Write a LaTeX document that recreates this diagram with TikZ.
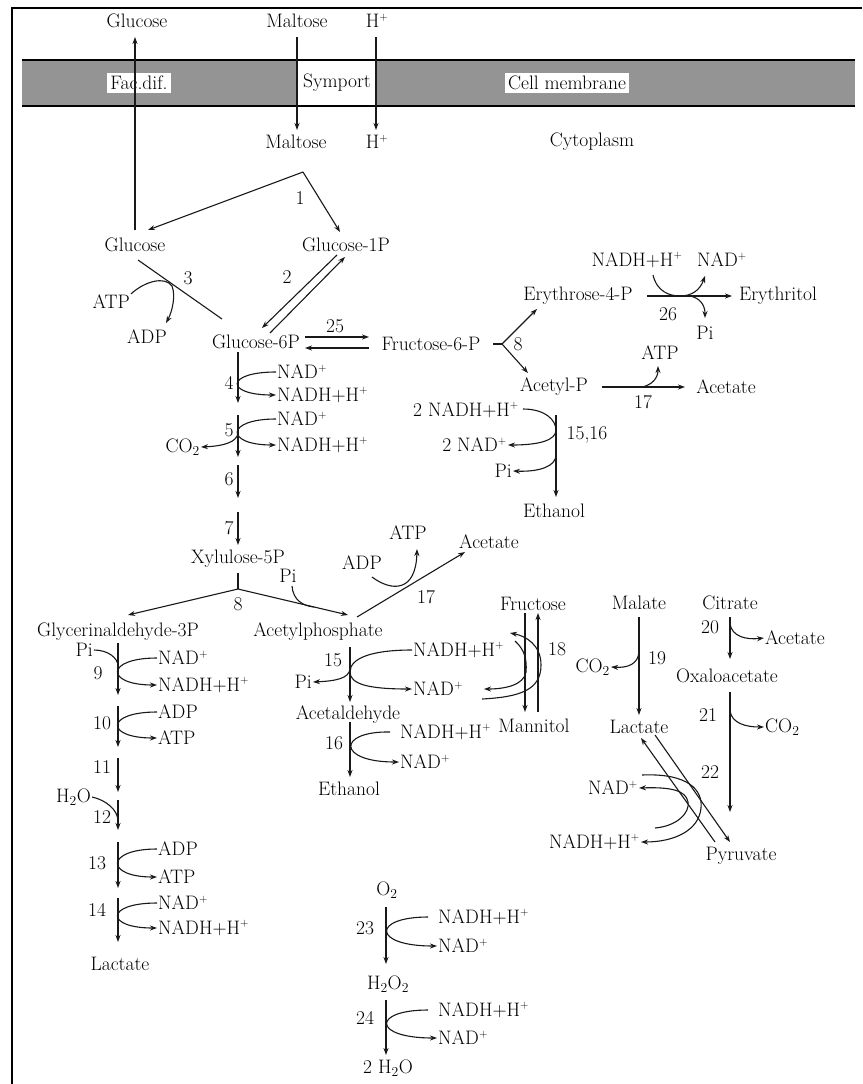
\documentclass[tikz,border=0pt]{standalone}
\usetikzlibrary{arrows.meta}
\newcommand\pls{\textsuperscript{\fontsize{11}{11}\selectfont +}}
\begin{document}
\begin{tikzpicture}[x=1pt,y=-1pt,
  t/.style={font=\fontsize{19.5}{21}\selectfont, inner sep=1pt, text=black},
  arr/.style={draw=black!90, line width=1.1pt, -{Stealth[length=7pt,width=5pt]}},
  ln/.style={draw=black!90, line width=1.1pt},
  wbox/.style={t, fill=white, inner sep=3pt}
]
\useasboundingbox (0,0) rectangle (862,1084);
\fill[white] (0,0) rectangle (862,1084);
% frame
\draw[line width=1.6pt] (12,1084) -- (12,8) -- (862,8);
% membrane
\fill[black!42] (22,60) rectangle (855,106);
\fill[white] (297,60) rectangle (376,106);
\draw[line width=1.4pt] (22,60) -- (855,60) (22,106) -- (855,106);
\node[wbox] (facdif) at (139,83) {Fac.dif.};
\node[t] (symport) at (337,83) {Symport};
\node[wbox] (cellmem) at (567,83) {Cell membrane};

% top labels
\node[t] (gluOut) at (137,21) {Glucose};
\node[t] (malOut) at (297,21) {Maltose};
\node[t] (hOut) at (377,21) {H\pls};
\node[t] (malIn) at (296,142) {Maltose};
\node[t] (hIn) at (377,142) {H\pls};
\node[t] (cyto) at (592,142) {Cytoplasm};

\coordinate (gl1) at (135,230); \coordinate (gl2) at (135,37);
\draw[arr] (gl1) -- (gl2);
\coordinate (ma1) at (297,37); \coordinate (ma2) at (297,130);
\draw[arr] (ma1) -- (ma2);
\coordinate (hh1) at (376,37); \coordinate (hh2) at (376,130);
\draw[arr] (hh1) -- (hh2);

% reaction 1
\node[t] (n1) at (300,198) {1};
\node[t] (glc) at (135,245) {Glucose};
\node[t] (g1p) at (346,245) {Glucose-1P};
\coordinate (r1) at (303,172);
\draw[arr] (r1) -- (148,230);
\draw[arr] (r1) -- (340,232);

% reaction 3
\node[t] (n3) at (188,278) {3};
\node[t,anchor=east] (atp3) at (131,302) {ATP};
\node[t] (adp3) at (147,337) {ADP};
\draw[ln] (138,260) -- (222,319);
\draw[arr] (atp3.north east) .. controls (145,281) and (165,276) .. (172,286) .. controls (176,296) and (172,312) .. (166,323);

% reaction 2
\node[t] (n2) at (287,277) {2};
\node[t] (g6p) at (256,342) {Glucose-6P};
\draw[arr] (337,255) -- (262,328);
\draw[arr] (270,333) -- (345,257);

% reaction 25
\node[t] (n25) at (335,326) {25};
\node[t] (f6p) at (431,344) {Fructose-6-P};
\draw[arr] (305,337) -- (369,337);
\draw[arr] (369,348) -- (305,348);

% reaction 8 (right)
\node[t] (n8a) at (518,344) {8};
\node[t] (e4p) at (578,296) {Erythrose-4-P};
\node[t] (acp) at (554,387) {Acetyl-P};
\coordinate (r8) at (502,344);
\draw[ln] (493,344) -- (r8);
\draw[arr] (r8) -- (537,309);
\draw[arr] (r8) -- (528,373);

% reaction 26
\node[t] (nadh26) at (637,260) {NADH+H\pls};
\node[t] (nad26) at (722,260) {NAD\pls};
\node[t] (ery) at (778,296) {Erythritol};
\node[t] (n26) at (668,314) {26};
\node[t] (pi26) at (705,333) {Pi};
\draw[arr] (647,296) -- (732,296);
\draw[arr] (653,275) .. controls (657,292) and (670,296) .. (680,296) .. controls (692,296) and (700,290) .. (705,276);
\draw[arr] (690,296) .. controls (700,298) and (705,305) .. (705,318);

% reaction 17 (upper)
\node[t] (atp17a) at (660,353) {ATP};
\node[t] (ace17a) at (726,387) {Acetate};
\node[t] (n17a) at (643,402) {17};
\draw[arr] (602,387) -- (685,387);
\draw[arr] (642,387) .. controls (652,385) and (658,378) .. (658,366);

% reactions 15,16 (upper)
\node[t,anchor=east] (nadh1516) at (520,410) {2 NADH+H\pls};
\node[t,anchor=east] (nad1516) at (508,445) {2 NAD\pls};
\node[t,anchor=east] (pi1516) at (513,471) {Pi};
\node[t] (n1516) at (587,435) {15,16};
\node[t] (eth1) at (554,511) {Ethanol};
\draw[arr] (556,415) -- (556,497);
\draw[ln] (523,409) .. controls (545,409) and (556,420) .. (556,430);
\draw[arr] (556,430) .. controls (556,440) and (540,445) .. (nad1516.east);
\draw[arr] (556,455) .. controls (556,466) and (540,472) .. (pi1516.east);

% main column
\node[t,anchor=west] (nad4) at (276,372) {NAD\pls};
\node[t,anchor=west] (nadh4) at (276,395) {NADH+H\pls};
\node[t] (n4) at (229,383) {4};
\draw[arr] (238,352) -- (238,403);
\draw[arr] (nad4.west) .. controls (225,372) and (225,395) .. (nadh4.west);

\node[t,anchor=west] (nad5) at (276,419) {NAD\pls};
\node[t,anchor=west] (nadh5) at (276,445) {NADH+H\pls};
\node[t] (n5) at (229,430) {5};
\node[t,anchor=east] (co25) at (201,447) {CO\textsubscript{2}};
\draw[arr] (238,415) -- (238,457);
\draw[arr] (nad5.west) .. controls (225,419) and (225,445) .. (nadh5.west);
\draw[arr] (238,433) .. controls (237,442) and (224,446) .. (co25.east);

\node[t] (n6) at (229,479) {6};
\draw[arr] (238,465) -- (238,498);
\node[t] (n7) at (229,528) {7};
\draw[arr] (238,512) -- (238,545);
\node[t] (xyl) at (238,559) {Xylulose-5P};

% reaction 8 (lower)
\node[t] (n8b) at (238,604) {8};
\node[t] (pix) at (288,576) {Pi};
\node[t] (gap) at (118,632) {Glycerinaldehyde-3P};
\node[t] (acph) at (318,632) {Acetylphosphate};
\coordinate (r8b) at (238,589);
\draw[ln] (238,573) -- (r8b);
\draw[arr] (r8b) -- (128,615);
\draw[arr] (r8b) -- (348,615);
\draw[ln] (292,586) .. controls (293,600) and (303,606) .. (314,607);

% reaction 17 (lower)
\node[t] (atp17b) at (408,533) {ATP};
\node[t] (adp17b) at (362,563) {ADP};
\node[t] (ace17b) at (489,542) {Acetate};
\node[t] (n17b) at (426,597) {17};
\draw[arr] (357,617) -- (465,552);
\draw[arr] (372,577) .. controls (392,592) and (416,592) .. (417,549);

% glycerinaldehyde column
\node[t,anchor=east] (pi9) at (94,650) {Pi};
\node[t] (n9) at (98,673) {9};
\node[t,anchor=west] (nad9) at (157,658) {NAD\pls};
\node[t,anchor=west] (nadh9) at (157,685) {NADH+H\pls};
\draw[arr] (118,643) -- (118,695);
\draw[ln] (pi9.east) .. controls (108,650) and (118,658) .. (118,666);
\draw[arr] (nad9.west) .. controls (105,658) and (105,685) .. (nadh9.west);

\node[t] (n10) at (102,723) {10};
\node[t,anchor=west] (adp10) at (157,712) {ADP};
\node[t,anchor=west] (atp10) at (157,738) {ATP};
\draw[arr] (118,706) -- (118,747);
\draw[arr] (adp10.west) .. controls (105,712) and (105,738) .. (atp10.west);

\node[t] (n11) at (102,767) {11};
\draw[arr] (118,758) -- (118,792);

\node[t,anchor=east] (h2o12) at (92,797) {H\textsubscript{2}O};
\node[t] (n12) at (102,817) {12};
\draw[arr] (118,800) -- (118,830);
\draw[ln] (h2o12.east) .. controls (106,800) and (118,810) .. (118,821);

\node[t] (n13) at (97,863) {13};
\node[t,anchor=west] (adp13) at (157,849) {ADP};
\node[t,anchor=west] (atp13) at (157,877) {ATP};
\draw[arr] (118,842) -- (118,888);
\draw[arr] (adp13.west) .. controls (105,849) and (105,877) .. (atp13.west);

\node[t] (n14) at (97,910) {14};
\node[t,anchor=west] (nad14) at (157,903) {NAD\pls};
\node[t,anchor=west] (nadh14) at (157,928) {NADH+H\pls};
\draw[arr] (118,898) -- (118,942);
\draw[arr] (nad14.west) .. controls (105,903) and (105,928) .. (nadh14.west);
\node[t] (lac1) at (120,964) {Lactate};

% acetylphosphate column
\node[t] (n15) at (333,660) {15};
\node[t,anchor=east] (pi15) at (313,682) {Pi};
\node[t,anchor=west] (nadh15) at (412,650) {NADH+H\pls};
\node[t,anchor=west] (nad15) at (412,689) {NAD\pls};
\node[t] (acald) at (348,715) {Acetaldehyde};
\draw[arr] (350,647) -- (350,702);
\draw[ln] (nadh15.west) .. controls (372,650) and (350,658) .. (350,672);
\draw[arr] (350,672) .. controls (350,684) and (368,689) .. (nad15.west);
\draw[arr] (350,668) .. controls (350,679) and (334,681) .. (pi15.east);

\node[t] (n16) at (334,743) {16};
\node[t,anchor=west] (nadh16) at (399,732) {NADH+H\pls};
\node[t,anchor=west] (nad16) at (399,762) {NAD\pls};
\node[t] (eth2) at (349,789) {Ethanol};
\draw[arr] (350,722) -- (350,777);
\draw[arr] ([xshift=-9pt]nadh16.west) .. controls (337,731) and (337,762) .. (nad16.west);

% fructose / mannitol
\node[t] (fru) at (533,604) {Fructose};
\node[t] (man) at (534,726) {Mannitol};
\node[t] (n18) at (557,649) {18};
\draw[arr] (525,613) -- (525,712);
\draw[arr] (538,712) -- (538,613);
\draw[arr] (515,641) .. controls (525,650) and (527,660) .. (526,672) .. controls (524,685) and (505,689) .. (484,689);
\draw[arr] (482,699) .. controls (520,697) and (541,690) .. (541,665) .. controls (541,645) and (526,636) .. (510,633);

% malate
\node[t] (mal) at (639,603) {Malate};
\node[t] (n19) at (657,658) {19};
\node[t,anchor=east] (co219) at (611,667) {CO\textsubscript{2}};
\node[t] (lac2) at (639,727) {Lactate};
\draw[arr] (639,617) -- (639,715);
\draw[arr] (639,652) .. controls (638,664) and (628,668) .. (co219.east);

% citrate
\node[t] (cit) at (730,603) {Citrate};
\node[t] (n20) at (710,627) {20};
\node[t,anchor=west] (ace20) at (764,638) {Acetate};
\node[t] (oaa) at (727,676) {Oxaloacetate};
\draw[arr] (730,617) -- (730,659);
\draw[arr] (730,624) .. controls (732,636) and (745,640) .. (ace20.west);

\node[t] (n21) at (708,715) {21};
\node[t,anchor=west] (co221) at (764,727) {CO\textsubscript{2}};
\node[t] (n22) at (710,772) {22};
\node[t] (pyr) at (741,856) {Pyruvate};
\draw[arr] (730,692) -- (730,812);
\draw[arr] (730,711) .. controls (732,723) and (745,727) .. (co221.west);

% lactate <-> pyruvate
\node[t,anchor=east] (nad22) at (639,788) {NAD\pls};
\node[t,anchor=east] (nadh22) at (641,842) {NADH+H\pls};
\draw[arr] (715,842) -- (641,738);
\draw[arr] (655,735) -- (730,842);
\draw[arr] (642,775) .. controls (688,773) and (703,790) .. (701,808) .. controls (699,830) and (675,842) .. (nadh22.east);
\draw[arr] (655,828) .. controls (678,826) and (690,812) .. (688,802) .. controls (686,790) and (670,787) .. (nad22.east);

% oxygen
\node[t] (o2) at (387,890) {O\textsubscript{2}};
\node[t] (n23) at (365,928) {23};
\node[t,anchor=west] (nadh23) at (437,917) {NADH+H\pls};
\node[t,anchor=west] (nad23) at (437,946) {NAD\pls};
\node[t] (h2o2) at (388,984) {H\textsubscript{2}O\textsubscript{2}};
\draw[arr] (386,907) -- (386,964);
\draw[arr] ([xshift=-9pt]nadh23.west) .. controls (372,917) and (372,946) .. (nad23.west);

\node[t] (n24) at (365,1018) {24};
\node[t,anchor=west] (nadh24) at (437,1010) {NADH+H\pls};
\node[t,anchor=west] (nad24) at (437,1038) {NAD\pls};
\node[t] (h2o) at (388,1068) {2 H\textsubscript{2}O};
\draw[arr] (386,1000) -- (386,1055);
\draw[arr] ([xshift=-9pt]nadh24.west) .. controls (372,1010) and (372,1038) .. (nad24.west);
\end{tikzpicture}
\end{document}
